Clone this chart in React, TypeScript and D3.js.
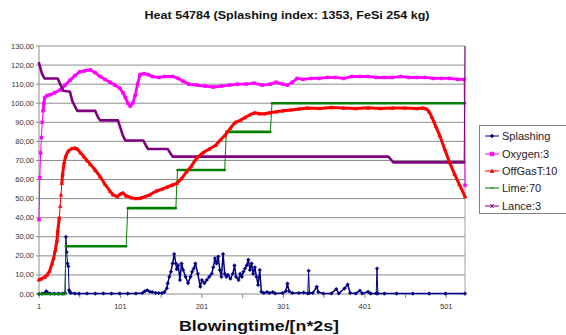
import React from 'react';
import * as d3 from 'd3';

type P = [number, number];

const title = 'Heat 54784 (Splashing index: 1353, FeSi 254 kg)';
const xTitle = 'Blowingtime/[n*2s]';
const yTicks = [0, 10, 20, 30, 40, 50, 60, 70, 80, 90, 100, 110, 120, 130];
const xTickLabels = [1, 101, 201, 301, 401, 501];
const xTickMarks = [1, 51, 101, 151, 201, 251, 301, 351, 401, 451, 501];
const seriesNames = ['Splashing', 'Oxygen:3', 'OffGasT:10', 'Lime:70', 'Lance:3'];

const splashing: P[] = [[1,0],[5,0.2],[8,0.5],[10,1.5],[12,0.5],[15,0.2],[20,0.2],[25,0.2],[30,0.2],[33,0.5],[34,30],[35,22],[36,16],[37,14.5],[38,2],[39,1],[40,0.5],[45,0.3],[50,0.2],[60,0.3],[70,0.2],[80,0.3],[90,0.2],[100,0.3],[110,0.2],[120,0.3],[128,0.5],[131,1.5],[134,2],[137,1.2],[140,1],[144,0.6],[148,0.5],[152,0.5],[155,1],[158,3],[159,5.6],[161,9],[163,11.7],[165,16],[167,21],[169,16],[170,13],[172,15],[174,7.3],[176,16],[178,12.6],[181,9],[184,5.7],[187,9],[189,11.7],[191,13.4],[193,16],[196,10.6],[199,3.8],[201,7.3],[204,5.6],[207,7.3],[210,9],[213,10.6],[215,14],[217,18.7],[219,16],[221,19.6],[223,12.6],[225,9],[227,21],[229,10.6],[231,9],[233,10],[236,8],[239,10.6],[241,15],[243,9],[246,7.3],[248,10.6],[250,9],[252,11.7],[254,13.4],[256,15],[258,18],[260,12.6],[262,16],[264,10.6],[266,14],[268,9],[270,4.7],[272,12.6],[274,1.2],[277,0.5],[281,1],[284,0.5],[288,1],[291,0.3],[300,0.5],[304,1.5],[306,5.5],[308,1.5],[312,0.5],[320,0.5],[326,0.8],[331,0.3],[332,12.2],[333,0.5],[337,0.5],[342,3.8],[344,1],[350,0.3],[360,0.3],[366,2.6],[369,0.3],[376,2.9],[380,5],[383,0.5],[390,0.3],[395,1.8],[398,0.3],[405,1.2],[408,0.3],[415,0.3],[416,13.4],[417,0.3],[425,0.2],[440,0.2],[460,0.2],[480,0.2],[500,0.2],[524,0.2]];

const oxygen: P[] = [[1,39],[2,61],[3,74],[4,82],[5,90],[6,96],[7,100],[8,103],[11,104],[15,104.5],[20,105.5],[27,107],[33,109.5],[39,112],[45,114.5],[51,116.5],[57,117],[64,117.5],[70,116],[76,114],[82,112.5],[88,111],[94,109.5],[100,108],[104,105.5],[107,103],[110,100],[113,98.5],[116,100],[119,104],[122,110],[125,115],[130,115.5],[135,115],[140,114],[148,113.5],[155,114],[165,114],[172,113],[178,111.5],[185,110],[195,109.5],[205,109],[215,108.5],[225,109],[235,109.5],[245,110],[255,110],[265,110.5],[275,109.5],[285,110],[292,111],[300,110],[306,109.5],[312,111],[318,113],[325,112.5],[335,113],[345,113],[355,113.5],[365,113.5],[375,113],[385,114],[395,114],[405,114],[415,113.5],[425,113.5],[435,113.5],[445,114],[455,113.5],[465,113.5],[475,113.5],[485,113],[495,113],[505,113],[515,112.5],[523,112.5],[524,57]];

const offGasT: P[] = [[1,7.5],[4,8],[8,8.8],[11,10],[14,12],[17,16],[19,19],[21,23],[23,28],[24,33],[26,40],[27,46],[28,52],[29,58],[30,63],[32,69],[34,72.5],[37,75],[41,76.2],[45,76.5],[48,76],[52,74],[56,72],[60,70],[64,68],[70,65],[76,61.5],[82,57.5],[88,54],[92,52],[97,51],[101,52.5],[104,53],[108,51.5],[114,50.5],[120,50],[125,50.2],[131,51],[137,52],[145,54],[152,55],[158,56],[164,57],[170,58],[176,60.5],[182,64],[188,67],[195,71.5],[202,74],[210,76],[218,78],[224,81],[229,83],[236,87],[242,90],[248,91],[254,92.5],[260,94],[266,95],[272,94.5],[278,94.5],[284,95],[292,95.5],[300,96],[310,96.5],[320,97],[330,97.5],[346,97.3],[360,97.8],[375,97.5],[390,97.2],[405,97.6],[420,97.3],[435,97.5],[450,97.5],[465,97.2],[472,97.5],[477,97],[480,95.5],[483,93],[488,88],[493,83],[499,76],[505,69],[511,63],[517,57.5],[524,51]];

const lime: P[] = [[1,0],[33,0],[34,25],[108,25],[109,35],[110,45],[169,45],[170,55],[171,65],[229,65],[230,75],[231,85],[285,85],[286,92],[287,100],[524,100]];

const lance: P[] = [[1,121],[3,118],[5,115],[8,113],[24,113],[27,110],[31,106.5],[39,106],[42,101],[48,96],[70,96],[73,93],[76,91],[98,91],[101,87],[104,83],[107,80.5],[129,80.5],[132,78],[135,76],[159,76],[162,74],[165,72],[430,72],[433,70.5],[436,69],[523,69],[524,130]];

const colors = ['#000080', '#FF00FF', '#FF0000', '#008000', '#800080'];

const x = d3.scaleLinear().domain([1, 524]).range([39, 465]);
const y = d3.scaleLinear().domain([0, 130]).range([294, 46]);

function markerPath(kind: string, cx: number, cy: number, s: number): string {
  if (kind === 'diamond') return `M${cx},${cy - s}L${cx + s},${cy}L${cx},${cy + s}L${cx - s},${cy}Z`;
  if (kind === 'square') return `M${cx - s},${cy - s}h${2 * s}v${2 * s}h${-2 * s}Z`;
  if (kind === 'triangle') return `M${cx},${cy - s}L${cx + s},${cy + s * 0.8}L${cx - s},${cy + s * 0.8}Z`;
  if (kind === 'star') return `M${cx - s},${cy - s}L${cx + s},${cy + s}M${cx - s},${cy + s}L${cx + s},${cy - s}M${cx},${cy - s}L${cx},${cy + s}`;
  if (kind === 'plus') return `M${cx - s},${cy}L${cx + s},${cy}`;
  return '';
}

function Series({ data, color, width, marker, ms }: { data: P[]; color: string; width: number; marker: string; ms: number }) {
  const runs: P[][] = [];
  const thin: [P, P][] = [];
  let cur: P[] = [data[0]];
  for (let k = 0; k < data.length - 1; k++) {
    const a = data[k], b = data[k + 1];
    if (b[0] - a[0] <= 1 && Math.abs(b[1] - a[1]) > 5) {
      thin.push([a, b]);
      if (cur.length > 1) runs.push(cur);
      cur = [b];
    } else {
      cur.push(b);
    }
  }
  if (cur.length > 1) runs.push(cur);
  const line = d3.line<P>().x(d => x(d[0])).y(d => y(d[1]));
  const filled = marker !== 'star' && marker !== 'plus';
  return (
    <g>
      {thin.map((s, i) => (
        <line key={'t' + i} x1={x(s[0][0])} y1={y(s[0][1])} x2={x(s[1][0])} y2={y(s[1][1])} stroke={color} strokeWidth={1} />
      ))}
      {runs.map((r, i) => (
        <path key={'r' + i} d={line(r) || ''} fill="none" stroke={color} strokeWidth={width} strokeLinejoin="round" strokeLinecap="round" />
      ))}
      {ms > 0 && data.map((d, i) => (
        <path key={'m' + i} d={markerPath(marker, x(d[0]), y(d[1]), ms)} fill={filled ? color : 'none'} stroke={color} strokeWidth={filled ? 0.5 : 1} />
      ))}
    </g>
  );
}

export default function App() {
  const fmt = (v: number) => v.toFixed(2).replace('.', ',');
  const markers = ['diamond', 'square', 'triangle', 'plus', 'star'];
  const legendY = [136, 154, 171, 188, 206];
  return (
    <svg width={566} height={335} style={{ position: 'fixed', left: 0, top: 0, background: '#fff' }} fontFamily="'Liberation Sans', Arial, sans-serif">
      <rect x={0} y={0} width={566} height={335} fill="#fff" />
      <text x={287} y={19} textAnchor="middle" fontSize={10} fontWeight="bold" fill="#111" textLength={285} lengthAdjust="spacingAndGlyphs">{title}</text>
      {yTicks.map(t => (
        <g key={t}>
          <line x1={39} x2={465} y1={y(t)} y2={y(t)} stroke="#8c8c8c" strokeWidth={1} />
          <line x1={36} x2={39} y1={y(t)} y2={y(t)} stroke="#8c8c8c" strokeWidth={1} />
          <text x={34} y={y(t) + 2.5} textAnchor="end" fontSize={7.5} fill="#333">{fmt(t)}</text>
        </g>
      ))}
      <line x1={465} x2={465} y1={46} y2={294} stroke="#a0a0a0" strokeWidth={1} />
      <line x1={39} x2={39} y1={46} y2={294} stroke="#8c8c8c" strokeWidth={1} />
      {xTickMarks.map(t => (
        <line key={t} x1={x(t)} x2={x(t)} y1={294} y2={298} stroke="#8c8c8c" strokeWidth={1} />
      ))}
      {xTickLabels.map(t => (
        <text key={t} x={x(t)} y={309} textAnchor="middle" fontSize={7.5} fill="#333">{t}</text>
      ))}
      <Series data={splashing} color={colors[0]} width={1.5} marker="diamond" ms={1.8} />
      <Series data={oxygen} color={colors[1]} width={2.8} marker="square" ms={1.5} />
      <Series data={lime} color={colors[3]} width={2.6} marker="plus" ms={0} />
      <Series data={lance} color={colors[4]} width={2.6} marker="star" ms={0} />
      <Series data={offGasT} color={colors[2]} width={3} marker="triangle" ms={1.8} />
      <text x={259} y={331} textAnchor="middle" fontSize={15} fontWeight="bold" fill="#111" textLength={160} lengthAdjust="spacingAndGlyphs">{xTitle}</text>
      <rect x={479.5} y={125.5} width={100} height={88} fill="#fff" stroke="#808080" strokeWidth={1} />
      {seriesNames.map((n, i) => (
        <g key={n}>
          <line x1={485} x2={499} y1={legendY[i]} y2={legendY[i]} stroke={colors[i]} strokeWidth={1} />
          <path d={markerPath(markers[i], 492, legendY[i], 1.8)} fill={colors[i]} stroke={colors[i]} strokeWidth={0.8} />
          <text x={502} y={legendY[i] + 4} fontSize={11} fill="#222">{n}</text>
        </g>
      ))}
    </svg>
  );
}
